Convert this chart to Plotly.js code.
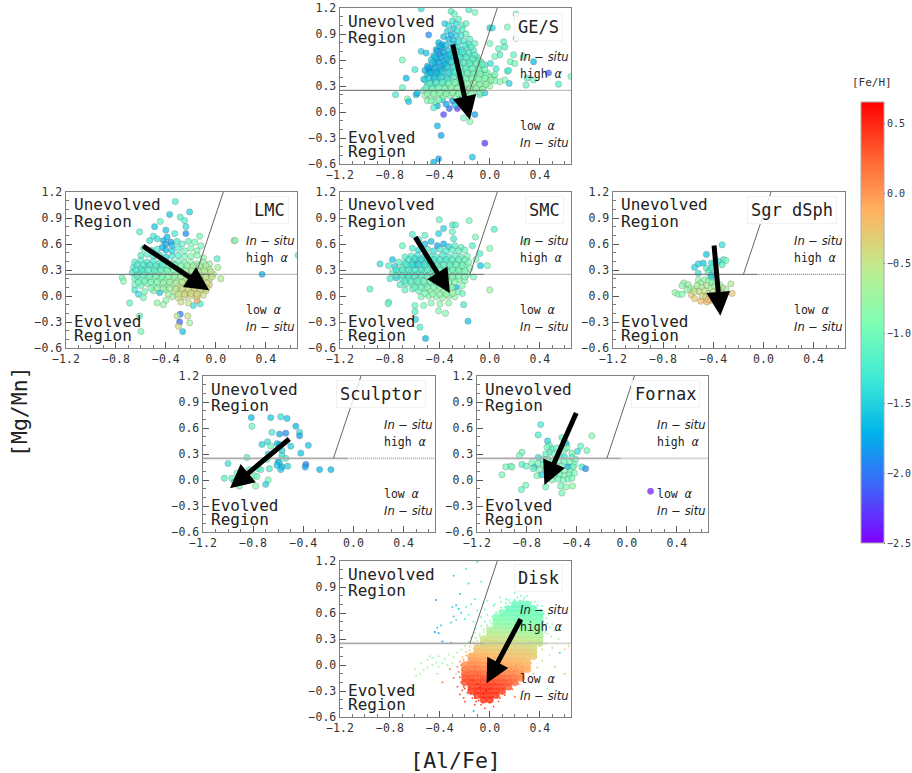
<!DOCTYPE html>
<html><head><meta charset="utf-8">
<script src="https://cdn.plot.ly/plotly-3.0.1.min.js"></script>
<style>html,body{margin:0;padding:0;background:#fff}</style></head>
<body><div id="chart" style="width:912px;height:773px"></div>
<script>
const panelNames=['GE/S','LMC','SMC','Sgr dSph','Sculptor','Fornax','Disk'];
const fehTicks=[-2.5,-2,-1.5,-1,-0.5,0,0.5];
const boundaryX=[-0.16,0.06];
const boundaryY=[0.25,1.2];
const gesStars=[[-.55,1.19,-1.4],[-.31,1.16,-1.2],[-.285,1.13,-1.1],[-.17,1.18,-1.2],[-.12,1.15,-1],[.21,1.13,-1],[-.49,.89,-1.9],[0,.97,-1.5],[.02,.97,-1.4],[.14,.98,-1],[.21,.85,-1],[-.55,.7,-1.5],[-.51,.68,-1.6],[-.7,.6,-1],[-.6,.49,-1.3],[-.67,.39,-1.7],[-.755,.2,-1.3],[-.7,.28,-1.1],[-.66,.15,-.9],[-.65,.12,-1.6],[-.59,.2,-1.7],[-.58,.22,-1.6],[-.49,.48,-2],[-.53,.38,-1.4],[-.42,-.16,-1.7],[-.39,-.27,-1.8],[-.41,-.54,-1.8],[-.45,-.58,-1.7],[-.14,-.52,-1.6],[-.04,-.36,-2.3],[-.37,-.03,-2.2],[-.26,.04,-2.3],[-.325,.04,-2.1],[-.12,-.03,-1.8],[-.21,-.07,-1],[-.16,-.11,-.9],[.35,.58,-1.7],[.47,.45,-2.1],[.55,.32,-1.2],[.65,.41,-1],[.29,.31,-1.1],[.35,.37,-1],[.3,.39,-1.2],[.11,.81,-1.1],[.12,.75,-1.2],[.07,.73,-1.1],[0,.79,-1],[.19,.66,-1.1],[.08,.66,-1.2],[.04,.64,-1],[.165,.58,-1],[.2,.56,-1],[.27,.64,-1.1],[.14,.47,-1.1],[.15,.48,-1.3],[.12,.37,-.9],[.05,.5,-1.3],[.005,.56,-1.4],[.03,.41,-.9],[.08,.35,-.9],[.155,.33,-1.5],[-.08,.2,-1.2],[-.04,.22,-1.5],[-.42,.07,-1.7],[-.35,.09,-1.8],[-.28,.08,-1.6],[-.2,.12,-1.4],[-.45,.05,-1.2],[-.5,.13,-.9],[-.44,.12,-1],[-.38,.14,-1.5],[-.3,.13,-1.8],[-.24,.15,-1.7],[-.15,.14,-1.6],[-.36,1.02,-1.5],[-.33,1,-1.4],[-.3,1.05,-1.3],[-.27,1.02,-1.4],[-.25,1.07,-1.1],[-.22,1,-1.2],[-.29,.96,-1.6],[-.34,.93,-1.5],[-.26,.94,-1.3],[-.22,.95,-1.2],[-.19,1.02,-1.1],[-.31,.89,-1.7],[-.37,.87,-1.6],[-.27,.88,-1.5],[-.23,.88,-1.3],[-.19,.9,-1.1],[-.16,.84,-1.2],[-.33,.84,-1.7],[-.41,.8,-1.7],[-.38,.78,-1.7],[-.29,.82,-1.6],[-.25,.81,-1.4],[-.21,.82,-1.3],[-.17,.78,-1.2],[-.12,.79,-1.1],[-.43,.72,-1.7],[-.38,.74,-1.8],[-.33,.71,-1.6],[-.28,.75,-1.5],[-.23,.72,-1.4],[-.18,.74,-1.3],[-.13,.71,-1.2],[-.45,.65,-1.6],[-.4,.67,-1.8],[-.35,.65,-1.7],[-.3,.68,-1.5],[-.25,.66,-1.3],[-.2,.67,-1.3],[-.15,.65,-1.2],[-.1,.63,-1.2],[-.47,.6,-1.5],[-.42,.61,-1.7],[-.37,.59,-1.7],[-.32,.62,-1.6],[-.27,.6,-1.4],[-.22,.61,-1.3],[-.17,.59,-1.2],[-.12,.6,-1.1],[-.07,.58,-1.1],[-.5,.53,-1.7],[-.44,.55,-1.8],[-.39,.53,-1.7],[-.34,.56,-1.6],[-.29,.54,-1.4],[-.24,.55,-1.3],[-.19,.53,-1.2],[-.14,.54,-1.1],[-.09,.52,-1.1],[-.04,.54,-1.2],[-.52,.48,-1.7],[-.47,.49,-1.8],[-.42,.47,-1.7],[-.37,.5,-1.6],[-.32,.48,-1.5],[-.27,.49,-1.3],[-.22,.47,-1.2],[-.17,.48,-1.1],[-.12,.46,-1.1],[-.07,.47,-1],[-.02,.45,-1],[-.5,.43,-1.6],[-.45,.42,-1.7],[-.4,.44,-1.6],[-.35,.41,-1.5],[-.3,.43,-1.4],[-.25,.42,-1.2],[-.2,.41,-1.1],[-.15,.43,-1.05],[-.1,.41,-1],[-.05,.42,-.95],[0,.4,-.9],[.04,.43,-1],[-.52,.37,-1.5],[-.46,.36,-1.6],[-.41,.38,-1.6],[-.36,.35,-1.4],[-.31,.37,-1.3],[-.26,.36,-1.1],[-.21,.35,-1],[-.16,.37,-.95],[-.11,.35,-.9],[-.06,.36,-.85],[-.01,.34,-.85],[.04,.36,-.9],[-.5,.31,-1.3],[-.45,.3,-1.4],[-.4,.32,-1.3],[-.35,.29,-1.2],[-.3,.31,-1],[-.25,.3,-.95],[-.2,.29,-.9],[-.15,.31,-.85],[-.1,.3,-.85],[-.05,.29,-.8],[0,.3,-.85],[-.53,.25,-1.1],[-.48,.24,-1],[-.43,.26,-.95],[-.38,.23,-.95],[-.33,.25,-.9],[-.28,.24,-.85],[-.23,.23,-.85],[-.18,.25,-.85],[-.13,.24,-.85],[-.08,.23,-.9],[-.52,.19,-.85],[-.47,.18,-.85],[-.42,.2,-.85],[-.37,.18,-.9],[-.32,.19,-.85],[-.27,.18,-.9],[-.22,.2,-.85],[-.17,.19,-.9],[-.47,.13,-.9],[-.41,.14,-.95],
[-.4,.76,-1.7],[-.35,.77,-1.6],[-.3,.78,-1.5],[-.26,.75,-1.35],[-.2,.77,-1.25],[-.15,.75,-1.2],[-.42,.7,-1.8],[-.37,.69,-1.75],[-.32,.66,-1.55],[-.27,.7,-1.4],[-.22,.69,-1.3],[-.17,.68,-1.25],[-.12,.66,-1.2],[-.44,.63,-1.65],[-.39,.63,-1.75],[-.34,.61,-1.6],[-.29,.64,-1.45],[-.24,.63,-1.3],[-.19,.63,-1.2],[-.14,.61,-1.15],[-.09,.59,-1.1],[-.46,.57,-1.6],[-.41,.57,-1.75],[-.36,.55,-1.65],[-.31,.58,-1.45],[-.26,.57,-1.3],[-.21,.57,-1.2],[-.16,.56,-1.15],[-.11,.56,-1.05],[-.06,.55,-1.1],[-.49,.51,-1.8],[-.44,.51,-1.7],[-.39,.49,-1.65],[-.34,.52,-1.5],[-.29,.51,-1.3],[-.24,.51,-1.2],[-.19,.5,-1.1],[-.14,.5,-1.05],[-.09,.49,-1],[-.04,.49,-1],[-.48,.45,-1.7],[-.43,.45,-1.65],[-.38,.46,-1.5],[-.33,.45,-1.4],[-.28,.46,-1.2],[-.23,.44,-1.1],[-.18,.45,-1.05],[-.13,.44,-1],[-.08,.44,-.95],[-.03,.42,-.95],[-.49,.39,-1.5],[-.44,.39,-1.5],[-.39,.4,-1.4],[-.34,.38,-1.3],[-.29,.4,-1.15],[-.24,.39,-1.05],[-.19,.38,-.95],[-.14,.39,-.9],[-.09,.38,-.9],[-.04,.39,-.9],[.01,.37,-.85],[-.48,.33,-1.2],[-.43,.34,-1.2],[-.38,.34,-1.1],[-.33,.33,-1],[-.28,.34,-.95],[-.23,.33,-.9],[-.18,.33,-.85],[-.13,.33,-.85],[-.08,.32,-.85],[-.03,.32,-.85],[-.51,.28,-1.1],[-.46,.27,-1],[-.41,.28,-.95],[-.36,.27,-.9],[-.31,.28,-.85],[-.26,.27,-.85],[-.21,.26,-.85],[-.16,.27,-.85],[-.11,.27,-.85],[-.06,.26,-.85],[-.5,.21,-.85],[-.45,.21,-.85],[-.4,.22,-.85],[-.35,.21,-.85],[-.3,.22,-.85],[-.25,.21,-.85],[-.2,.23,-.85],[-.15,.21,-.9]];
const lmcStars=[[-.325,1.09,-1.3],[-.21,.97,-1.5],[-.285,.91,-1.2],[-.37,.94,-1.6],[-.445,.86,-1.1],[-.49,.8,-1.6],[-.25,.87,-1.2],[-.4,.76,-1.6],[-.61,.74,-1.2],[-.33,.72,-1.3],[-.24,.8,-1.4],[-.24,.72,-1.9],[-.13,.69,-1],[.145,.64,-.4],[.155,.64,-1],[.66,.47,-1.2],[.37,.25,-1.7],[.01,.43,-1.2],[.015,.33,-.7],[.04,.2,-.6],[-.75,.21,-1],[-.74,.17,-.9],[-.69,-.08,-1.1],[-.61,-.23,-1.1],[-.6,-.41,-1],[-.285,-.21,-2],[-.225,-.23,-.5],[-.31,-.23,-.6],[-.29,-.3,-2.1],[-.21,-.31,-.7],[-.3,-.35,-.4],[-.265,-.41,-1.6],[-.18,-.11,-1.4],[-.125,-.09,-1.3],[-.15,-.05,-.1],[-.5,.69,-1.3],[-.47,.66,-1.4],[-.53,.64,-1.4],[-.42,.64,-1.7],[-.39,.68,-1.7],[-.36,.62,-1.8],[-.4,.6,-1.8],[-.43,.56,-1.7],[-.35,.58,-1.6],[-.31,.63,-1.3],[-.27,.6,-1.1],[-.22,.63,-1.1],[-.17,.62,-1],[-.12,.58,-1],[-.58,.55,-1.1],[-.52,.53,-1.3],[-.47,.54,-1.3],[-.4,.53,-1.7],[-.35,.52,-1.5],[-.3,.55,-1.2],[-.25,.52,-1],[-.2,.55,-1],[-.15,.52,-.95],[-.6,.47,-1.2],[-.55,.48,-1.2],[-.5,.46,-1.3],[-.45,.47,-1.4],[-.4,.45,-1.5],[-.35,.46,-1.3],[-.3,.47,-1.2],[-.25,.45,-1],[-.2,.46,-.9],[-.15,.47,-.9],[-.1,.44,-.85],[-.65,.39,-1.2],[-.6,.41,-1.2],[-.55,.39,-1.25],[-.5,.4,-1.3],[-.45,.38,-1.3],[-.4,.4,-1.3],[-.35,.38,-1.15],[-.3,.4,-1.05],[-.25,.38,-.95],[-.2,.39,-.85],[-.15,.37,-.8],[-.1,.39,-.75],[-.05,.37,-.75],[-.66,.33,-1.3],[-.6,.32,-1.3],[-.55,.34,-1.3],[-.5,.32,-1.25],[-.45,.33,-1.2],[-.4,.31,-1.1],[-.35,.33,-1],[-.3,.32,-.95],[-.25,.31,-.85],[-.2,.33,-.75],[-.15,.31,-.7],[-.1,.33,-.65],[-.05,.31,-.6],[-.67,.27,-1.3],[-.62,.26,-1.25],[-.57,.27,-1.2],[-.52,.25,-1.1],[-.47,.27,-1.05],[-.42,.25,-1],[-.37,.27,-.95],[-.32,.25,-.85],[-.27,.26,-.8],[-.22,.25,-.7],[-.17,.26,-.65],[-.12,.24,-.6],[-.07,.26,-.55],[-.02,.25,-.6],[-.65,.2,-1.1],[-.6,.19,-1],[-.55,.21,-1],[-.5,.19,-.95],[-.45,.2,-.95],[-.4,.18,-.85],[-.35,.2,-.8],[-.3,.18,-.7],[-.25,.2,-.65],[-.2,.18,-.55],[-.15,.2,-.5],[-.1,.18,-.5],[-.05,.2,-.5],[-.65,.13,-1],[-.6,.12,-1.1],[-.55,.14,-.95],[-.5,.12,-.9],[-.45,.13,-.85],[-.4,.11,-.8],[-.35,.13,-.7],[-.3,.11,-.55],[-.25,.13,-.5],[-.2,.11,-.45],[-.15,.13,-.45],[-.1,.11,-.45],[-.05,.13,-.4],[-.65,.07,-1.3],[-.62,.02,-1.4],[-.57,.05,-1],[-.5,.06,-.95],[-.45,.04,-1.6],[-.4,.07,-.8],[-.33,.05,-.6],[-.28,.06,-.45],[-.23,.04,-.4],[-.18,.06,-.4],[-.13,.04,-.45],[-.08,.06,-.4],[-.58,-.02,-1],[-.4,-.05,-.85],[-.35,-.01,-.7],[-.3,-.02,-.5],[-.25,-.01,-.4],[-.2,0,-.4],[-.15,-.01,-.4],[-.47,-.08,-.8],[-.42,-.1,-.8],[-.28,-.07,-.45],[-.22,-.08,-.5],
[-.63,.36,-1.25],[-.58,.36,-1.3],[-.53,.36,-1.3],[-.48,.35,-1.25],[-.43,.36,-1.2],[-.38,.35,-1.1],[-.33,.36,-1],[-.28,.35,-.9],[-.23,.35,-.85],[-.18,.35,-.75],[-.13,.35,-.7],[-.08,.35,-.65],[-.64,.3,-1.25],[-.59,.29,-1.25],[-.54,.3,-1.2],[-.49,.29,-1.15],[-.44,.3,-1.1],[-.39,.29,-1],[-.34,.3,-.95],[-.29,.29,-.85],[-.24,.29,-.75],[-.19,.29,-.7],[-.14,.28,-.6],[-.09,.29,-.6],[-.04,.28,-.55],[-.63,.23,-1.15],[-.58,.24,-1.1],[-.53,.22,-1.05],[-.48,.23,-1],[-.43,.22,-.95],[-.38,.22,-.85],[-.33,.22,-.8],[-.28,.22,-.7],[-.23,.23,-.6],[-.18,.22,-.55],[-.13,.22,-.5],[-.08,.22,-.5],[-.03,.22,-.5],[-.62,.16,-1.05],[-.57,.17,-1],[-.52,.16,-.95],[-.47,.16,-.9],[-.42,.15,-.85],[-.37,.16,-.75],[-.32,.15,-.65],[-.27,.16,-.55],[-.22,.15,-.5],[-.17,.16,-.45],[-.12,.15,-.45],[-.07,.15,-.45],[-.52,.09,-.9],[-.47,.09,-.85],[-.42,.09,-.8],[-.37,.09,-.7],[-.32,.08,-.55],[-.27,.09,-.45],[-.22,.08,-.4],[-.17,.09,-.4],[-.12,.08,-.4],[-.07,.09,-.4],[-.38,.02,-.75],[-.3,.02,-.5],[-.25,.02,-.4],[-.2,.03,-.4],[-.15,.02,-.4],[-.1,.01,-.45]];
const smcStars=[[-.405,.88,-1.1],[-.165,.87,-1],[-.3,.82,-1.2],[-.275,.82,-1.2],[-.37,.78,-1.5],[-.41,.72,-1.5],[-.62,.71,-1.2],[-.52,.7,-1.1],[-.3,.74,-1.1],[.035,.77,-1.2],[-.115,.68,-1],[-.29,.66,-1.3],[-.14,.58,-1.2],[0,.55,-.9],[.29,.62,-.9],[-.08,.49,-1.2],[-.11,.42,-1],[-.075,.35,-1.6],[-.02,.35,-1],[-.88,.37,-1.4],[-.96,.08,-1.2],[0,.07,-.8],[-.21,-.1,-1.3],[-.175,-.29,-1.6],[-.515,-.49,-1.7],[-.56,-.36,-1.2],[-.595,-.27,-1.5],[-.6,-.18,-1.2],[-.81,-.07,-1.1],[-.815,-.09,-1.1],[-.355,-.2,-.9],[-.41,-.17,-.9],[-.53,-.11,-1],[-.6,-.11,-1.1],[-.57,.65,-1.4],[-.52,.6,-1.6],[-.47,.63,-1.6],[-.42,.58,-1.8],[-.37,.6,-1.7],[-.33,.57,-1.5],[-.28,.58,-1.2],[-.23,.56,-1.1],[-.7,.58,-1.1],[-.62,.55,-1.3],[-.57,.53,-1.4],[-.5,.54,-1.3],[-.45,.52,-1.4],[-.4,.54,-1.3],[-.35,.52,-1.3],[-.3,.53,-1.2],[-.25,.52,-1.15],[-.2,.53,-1.05],[-.68,.45,-1.2],[-.63,.46,-1.25],[-.58,.47,-1.35],[-.53,.45,-1.4],[-.48,.46,-1.3],[-.43,.45,-1.25],[-.38,.47,-1.3],[-.33,.45,-1.25],[-.28,.46,-1.15],[-.23,.45,-1.1],[-.18,.46,-1],[-.78,.42,-1.6],[-.73,.39,-1.2],[-.68,.38,-1.3],[-.62,.39,-1.35],[-.57,.4,-1.5],[-.52,.38,-1.4],[-.47,.39,-1.3],[-.42,.38,-1.25],[-.37,.4,-1.2],[-.32,.38,-1.15],[-.27,.39,-1.1],[-.22,.38,-1.05],[-.17,.39,-1],[-.81,.35,-1.2],[-.76,.34,-1.5],[-.7,.33,-1.2],[-.65,.34,-1.3],[-.6,.35,-1.7],[-.55,.33,-1.3],[-.5,.34,-1.25],[-.45,.32,-1.2],[-.4,.33,-1.15],[-.35,.32,-1.1],[-.3,.33,-1.05],[-.25,.32,-1],[-.2,.33,-1],[-.16,.32,-.95],[-.78,.27,-1.1],[-.73,.28,-1.2],[-.68,.26,-1.25],[-.63,.27,-1.3],[-.58,.26,-1.25],[-.53,.28,-1.2],[-.48,.26,-1.15],[-.43,.27,-1.1],[-.38,.26,-1.05],[-.33,.27,-1],[-.28,.26,-1],[-.23,.27,-.95],[-.18,.25,-.95],[-.13,.22,-1],[-.8,.2,-1.3],[-.75,.21,-1.5],[-.7,.2,-1.2],[-.65,.21,-1.2],[-.6,.19,-1.15],[-.55,.2,-1.1],[-.5,.21,-1.1],[-.45,.19,-1.05],[-.4,.2,-1],[-.35,.19,-1],[-.3,.2,-.95],[-.25,.19,-.9],[-.2,.18,-.9],[-.72,.13,-1.2],[-.67,.14,-1.15],[-.62,.13,-1.1],[-.57,.14,-1.1],[-.52,.13,-1.05],[-.47,.14,-1],[-.42,.12,-.95],[-.37,.14,-.9],[-.32,.13,-.9],[-.27,.1,-1.7],[-.22,.12,-.95],[-.68,.07,-1.1],[-.62,.08,-1.1],[-.57,.06,-1.05],[-.52,.08,-.95],[-.47,.06,-.9],[-.42,.07,-.85],[-.37,.05,-.85],[-.32,.07,-.85],[-.25,.05,-1],[-.22,.03,-1.05],[-.55,-.01,-1],[-.49,0,-.9],[-.43,-.01,-.85],[-.38,-.02,-.8],[-.33,0,-.8],[-.28,-.01,-.85],[-.47,-.08,-.9],[-.4,-.09,-.85],[-.33,-.08,-.85],
[-.65,.42,-1.3],[-.6,.43,-1.4],[-.55,.42,-1.4],[-.5,.42,-1.35],[-.45,.42,-1.3],[-.4,.42,-1.25],[-.35,.42,-1.25],[-.3,.42,-1.15],[-.25,.42,-1.1],[-.2,.42,-1.05],[-.67,.36,-1.25],[-.62,.36,-1.35],[-.57,.36,-1.4],[-.52,.36,-1.3],[-.47,.36,-1.25],[-.42,.35,-1.2],[-.37,.36,-1.15],[-.32,.35,-1.1],[-.27,.36,-1.05],[-.22,.35,-1],[-.75,.3,-1.3],[-.7,.3,-1.2],[-.65,.3,-1.25],[-.6,.3,-1.3],[-.55,.3,-1.25],[-.5,.3,-1.2],[-.45,.3,-1.15],[-.4,.3,-1.1],[-.35,.29,-1.05],[-.3,.3,-1],[-.25,.29,-1],[-.2,.29,-.95],[-.75,.24,-1.2],[-.7,.24,-1.2],[-.65,.24,-1.25],[-.6,.23,-1.2],[-.55,.24,-1.15],[-.5,.23,-1.1],[-.45,.23,-1.05],[-.4,.23,-1],[-.35,.23,-1],[-.3,.23,-.95],[-.25,.23,-.95],[-.2,.22,-.95],[-.68,.17,-1.2],[-.63,.17,-1.15],[-.58,.17,-1.1],[-.53,.17,-1.05],[-.48,.17,-1],[-.43,.16,-.95],[-.38,.17,-.95],[-.33,.16,-.9],[-.28,.16,-.9],[-.6,.1,-1.1],[-.55,.1,-1.05],[-.5,.1,-1],[-.45,.1,-.95],[-.4,.1,-.9],[-.35,.1,-.85],[-.3,.1,-.85],[-.52,.03,-.95],[-.46,.02,-.9],[-.4,.02,-.85],[-.35,.02,-.8],[-.3,.03,-.8]];
const sgrStars=[[-.33,.59,-1.4],[-.455,.48,-1.6],[-.32,.42,-1.2],[-.3,.41,-1],[-.36,.4,-1.4],[-.39,.38,-1.5],[-.48,.38,-1.6],[-.52,.37,-1.5],[-.55,.33,-1.5],[-.415,.38,-1.4],[-.33,.36,-1.2],[-.455,.32,-1.2],[-.43,.3,-1.1],[-.41,.32,-1.3],[-.52,.26,-1.4],[-.44,.27,-1.1],[-.415,.24,-1.5],[-.38,.25,-1.3],[-.42,.21,-1.5],[-.705,.04,-.8],[-.68,.02,-.9],[-.65,.02,-.9],[-.635,.15,-.8],[-.65,.12,-.85],[-.6,.13,-.8],[-.59,.09,-.75],[-.575,.015,-.3],[-.61,.07,-.8],[-.55,-.03,-.3],[-.5,-.06,-.2],[-.45,-.07,-.2],[-.42,-.05,-.25],[-.39,-.05,-.2],[-.25,.03,-.3],[-.26,.14,-.6],[-.3,.08,-.7],[-.33,.1,-.6],[-.55,.08,-.6],[-.52,.18,-.8],[-.5,.15,-.75],[-.47,.19,-.8],[-.44,.17,-.85],[-.41,.16,-.9],[-.38,.15,-.8],[-.35,.13,-.7],[-.53,.12,-.7],[-.49,.1,-.6],[-.45,.12,-.65],[-.42,.09,-.7],[-.39,.11,-.7],[-.36,.08,-.65],[-.55,.05,-.5],[-.51,.05,-.45],[-.47,.06,-.5],[-.44,.03,-.55],[-.4,.05,-.55],[-.37,.03,-.5],[-.34,.04,-.45],[-.49,0,-.4],[-.46,-.01,-.35],[-.43,.01,-.35],[-.4,-.01,-.35],[-.37,-.02,-.3],[-.34,-.01,-.45],[-.44,-.04,-.2]];
const sculptorStars=[[-.815,.72,-1.7],[-.81,.62,-1.1],[-.66,.72,-1.6],[-.58,.73,-1.4],[-.53,.71,-1.6],[-.46,.62,-1.7],[-.43,.55,-1.4],[-.43,.51,-1.8],[-.65,.55,-1.3],[-.59,.53,-1.8],[-.54,.54,-1.9],[-.36,.4,-1.6],[-.42,.31,-1.6],[-.5,.39,-1.5],[-.685,.44,-1.4],[-.73,.41,-1.5],[-.66,.39,-1.1],[-.61,.42,-1.6],[-.59,.41,-1.7],[-.57,.34,-1.5],[-.57,.28,-1.4],[-.54,.25,-1.3],[-.68,.3,-1.5],[-.85,.26,-1.2],[-.69,.24,-1.3],[-.6,.21,-1.7],[-.59,.2,-1.5],[-.61,.17,-1.6],[-.57,.15,-1.7],[-.58,.12,-1.6],[-.525,.16,-1.5],[-1,.19,-1.4],[-.38,.18,-2],[-.385,.15,-1.8],[-.27,.12,-1.7],[-.18,.12,-1.7],[-.83,.12,-1.2],[-.76,.13,-1],[-.74,.12,-1.2],[-.67,.13,-1.3],[-1.03,.02,-1.2],[-.97,.02,-1.1],[-.93,.08,-1.1],[-.88,.07,-1.2],[-.95,-.02,-1.4],[-.91,-.07,-1],[-.87,-.02,-1],[-.78,-.07,-.9],[-.79,.05,-1],[-.77,.04,-1],[-.68,0,-1],[-.7,-.05,-1.5]];
const fornaxStars=[[-.69,.64,-1.3],[-.71,.52,-1.3],[-.28,.51,-.9],[-.485,.42,-1.7],[-.635,.45,-1.5],[-.37,.39,-1.1],[-.395,.33,-1.4],[-.32,.34,-1],[-.84,.32,-1],[-.86,.28,-1],[-.71,.26,-1.4],[-.84,.18,-1.2],[-.805,.16,-1.1],[-.97,.15,-1],[-.93,.16,-1],[-.92,.15,-1],[-1,.06,-1],[-.845,-.11,-1.1],[-.81,-.06,-1],[-.65,-.08,-1],[-.52,-.15,-1],[-.485,-.08,-.9],[-.435,-.07,-.8],[-.53,-.07,-1],[-.36,.15,-1.3],[-.33,.13,-1.9],[.19,-.13,-2.4],[-.74,.15,-1.6],[-.52,.49,-1.2],[-.5,.45,-1.1],[-.62,.4,-1.1],[-.6,.36,-1.2],[-.64,.38,-1],[-.56,.37,-1],[-.5,.35,-1],[-.48,.37,-1],[-.44,.31,-1],[-.62,.32,-1.2],[-.65,.3,-1.1],[-.58,.3,-1],[-.54,.28,-1.05],[-.5,.27,-1.4],[-.44,.26,-1.1],[-.41,.24,-1],[-.67,.24,-1.1],[-.63,.24,-1.1],[-.59,.22,-1],[-.55,.22,-1],[-.5,.21,-1.05],[-.46,.2,-1],[-.42,.18,-1],[-.76,.2,-1],[-.71,.19,-1],[-.67,.18,-1.05],[-.62,.17,-1.1],[-.57,.16,-1],[-.52,.16,-1.05],[-.47,.15,-1.7],[-.43,.15,-1.05],[-.75,.13,-1.05],[-.7,.12,-1],[-.65,.12,-1.2],[-.6,.11,-1.1],[-.55,.1,-1],[-.5,.11,-1],[-.45,.1,-1],[-.72,.05,-1],[-.68,.06,-1.5],[-.63,.05,-1.1],[-.58,.05,-1],[-.54,.06,-1],[-.5,.05,-1],[-.46,.06,-1],[-.42,.08,-.95],[-.6,0,-1],[-.55,.01,-1],[-.51,0,-1],[-.47,.01,-.95],[-.44,.02,-1]];
const diskAlBins=[-.4,-.35,-.3,-.25,-.2,-.15,-.1,-.05,0,.05,.1,.15,.2,.25,.3,.35,.4,.45,.5];
const diskMgBins=[-.45,-.4,-.35,-.3,-.25,-.2,-.15,-.1,-.05,0,.05,.1,.15,.2,.25,.3,.35,.4,.45,.5,.55,.6,.65,.7,.75,.8];
const _=null;
const diskFeH=[
[_,_,_,_,_,_,_,_,_,_,_,_,_,_,_,_,_,_,_],
[_,_,_,_,_,_,_,.45,.45,_,_,_,_,_,_,_,_,_,_],
[_,_,_,_,_,_,.44,.46,.46,.42,_,_,_,_,_,_,_,_,_],
[_,_,_,_,_,.42,.44,.45,.46,.44,.38,_,_,_,_,_,_,_,_],
[_,_,_,_,_,.38,.42,.44,.45,.42,.38,.32,_,_,_,_,_,_,_],
[_,_,_,_,.36,.38,.38,.4,.4,.38,.35,.3,.25,_,_,_,_,_,_],
[_,_,_,_,.32,.34,.32,.32,.32,.3,.28,.24,.18,.14,_,_,_,_,_],
[_,_,_,_,.28,.28,.26,.24,.22,.2,.18,.14,.1,.06,_,_,_,_,_],
[_,_,_,_,.18,.2,.18,.14,.12,.1,.08,.05,.02,-.02,-.08,_,_,_,_],
[_,_,_,_,.06,.1,.1,.05,.03,0,-.02,-.05,-.08,-.1,-.14,_,_,_,_],
[_,_,_,_,_,.02,.02,-.02,-.05,-.08,-.1,-.12,-.14,-.17,-.2,_,_,_,_],
[_,_,_,_,_,-.06,-.08,-.1,-.12,-.14,-.16,-.18,-.2,-.22,-.25,-.28,_,_,_],
[_,_,_,_,_,_,-.18,-.18,-.2,-.22,-.24,-.25,-.27,-.28,-.3,-.33,_,_,_],
[_,_,_,_,_,_,-.26,-.27,-.28,-.3,-.3,-.32,-.33,-.35,-.37,-.4,_,_,_],
[_,_,_,_,_,_,_,-.35,-.36,-.37,-.38,-.4,-.41,-.42,-.44,-.47,-.5,_,_],
[_,_,_,_,_,_,_,-.44,-.43,-.44,-.46,-.47,-.48,-.5,-.52,-.55,-.58,_,_],
[_,_,_,_,_,_,_,_,-.52,-.53,-.54,-.55,-.57,-.6,-.62,-.65,-.68,_,_],
[_,_,_,_,_,_,_,_,-.62,-.63,-.65,-.67,-.68,-.7,-.72,-.75,-.78,_,_],
[_,_,_,_,_,_,_,_,_,-.73,-.75,-.77,-.78,-.8,-.82,-.84,-.85,_,_],
[_,_,_,_,_,_,_,_,_,-.82,-.85,-.87,-.88,-.9,-.9,-.9,-.92,_,_],
[_,_,_,_,_,_,_,_,_,-.9,-.93,-.95,-.95,-.97,-.97,-.97,-.97,_,_],
[_,_,_,_,_,_,_,_,_,_,-.98,-1,-1,-1.02,-1.02,-1,-1,_,_],
[_,_,_,_,_,_,_,_,_,_,_,-1.05,-1.05,-1.05,-1.05,-1.02,_,_,_],
[_,_,_,_,_,_,_,_,_,_,_,_,-1.05,-1.05,-1.05,_,_,_,_],
[_,_,_,_,_,_,_,_,_,_,_,_,_,_,_,_,_,_,_],
[_,_,_,_,_,_,_,_,_,_,_,_,_,_,_,_,_,_,_]];
const diskFringe=[[-.29,1.03,-1.5],[-.19,1.11,-1.3],[-.1,1.19,-1.4],[-.17,.94,-1.4],[-.07,.96,-1.1],[-.24,.82,-1.6],[-.43,.75,-1.8],[-.27,.69,-1.6],[-.3,.67,-1.5],[-.25,.65,-1.6],[-.23,.6,-1.5],[-.29,.56,-1.6],[-.27,.52,-1.4],[-.31,.49,-1.5],[-.39,.46,-1.5],[-.42,.43,-1.6],[-.44,.38,-1.9],[-.41,.37,-1.7],[-.38,.27,-1.8],[-.31,.26,-1.5],[-.19,.67,-1.2],[-.15,.7,-1.2],[-.12,.76,-1.2],[-.05,.72,-1.1],[-.1,.63,-1.1],[-.17,.58,-1.2],[-.2,.53,-1.3],[-.13,.5,-1.2],[-.07,.55,-1.1],[-.04,.64,-1.1],[-.02,.74,-1],[.03,.68,-1],[.08,.78,-1],[.15,.75,-1],[.2,.83,-1],[.3,.8,-1],[.36,.73,-1],[.42,.68,-1],[.47,.58,-.9],[.5,.47,-.85],[.52,.4,-.7],[.49,.33,-.6],[.45,.25,-.4],[.5,.2,-.4],[.6,.18,-.3],[.63,.22,-.4],[.55,.3,-.5],[.56,.14,-1.5],[.48,.11,-.5],[.42,.05,-.4],[.38,-.03,-.2],[.35,-.1,-.1],[.33,-.2,0],[.27,-.3,.1],[.2,-.37,.2],[.12,-.35,.3],[.07,-.42,.3],[.46,-.27,-1],[.6,-.1,-.2],[.52,-.02,-.3],[.03,-.48,.3],[-.04,-.5,.3],[-.07,-.46,.35],[-.12,-.46,.35],[-.2,-.42,.3],[-.21,-.38,.3],[-.24,-.34,.3],[-.26,-.25,.25],[-.22,-.29,.3],[-.18,-.32,.3],[-.14,-.38,.3],[-.11,-.42,.35],[-.13,-.53,-1.7],[-.7,-.3,.2],[-.29,-.15,.2],[-.32,-.05,.1],[-.27,-.1,-.4],[-.3,.02,-.6],[-.34,0,-.7],[-.38,.02,-.75],[-.41,-.02,-.8],[-.43,.03,-.8],[-.46,0,-.75],[-.5,-.03,-.7],[-.53,-.06,-.7],[-.56,-.1,-.7],[-.59,-.12,-.6],[-.6,-.05,-.6],[-.55,.02,-.75],[-.5,.06,-.85],[-.46,.08,-.85],[-.41,.1,-.85],[-.36,.07,-.8],[-.33,.12,-.7],[-.29,.09,-.6],[-.26,.14,-.6],[-.23,.18,-.55],[-.2,.22,-.6],[-.17,.27,-.7],[-.15,.32,-.75],[-.12,.37,-.8],[-.11,.42,-.9],[-.07,.45,-.95],[-.04,.5,-1],[-.02,.58,-1],[.04,.7,-1.05],[.09,.73,-1.05],[.13,.76,-1.05],[.25,.8,-1.05],[.39,.6,-.95],[.48,.44,-.8],[.46,.36,-.65],[.42,.18,-.35],[.37,.1,-.25],[.33,.02,-.15],[.3,-.05,-.1],[.27,-.12,-.02],[.23,-.22,.12],[.18,-.28,.22],[.1,-.3,.28],[.08,-.38,.3],[-.38,-.2,.15],[-.42,-.1,-.2],[-.48,.1,-.8],
[-.09,-.41,.45],[-.06,-.43,.45],[-.03,-.41,.45],[0,-.43,.45],[.02,-.4,.42],[-.12,-.38,.45],[-.08,-.37,.45],[.03,-.37,.42],[.06,-.36,.4],[-.15,-.33,.42],[-.12,-.31,.42],[-.17,-.29,.4],[-.13,-.34,.45],[.05,-.32,.42],[.08,-.29,.38],[.1,-.33,.38],[-.21,-.25,.38],[-.18,-.22,.4],[-.2,-.27,.38],[-.16,-.25,.4],[.09,-.24,.35],[.12,-.26,.3],[.14,-.22,.3],[-.23,-.2,.35],[-.2,-.18,.36],[-.17,-.2,.38],[.13,-.19,.28],[.16,-.18,.25],[.18,-.21,.22],[-.24,-.14,.3],[-.21,-.12,.3],[-.18,-.15,.32],[.16,-.13,.2],[.19,-.11,.15],[.22,-.14,.12],[-.25,-.08,.18],[-.22,-.06,.2],[-.19,-.09,.25],[.19,-.07,.08],[.22,-.05,.05],[.25,-.08,.02],[-.26,-.02,.1],[-.23,0,.08],[-.2,-.03,.15],[.21,-.01,0],[.24,.01,-.05],[.27,-.02,-.08],[-.24,.04,.02],[-.21,.06,0],[-.18,.03,.05],[.24,.05,-.1],[.27,.07,-.12],[.3,.04,-.15],[-.22,.09,-.1],[-.19,.11,-.12],[-.16,.08,-.05],[.27,.1,-.18],[.3,.12,-.2],[.33,.09,-.22],[-.19,.15,-.25],[-.16,.17,-.25],[-.13,.14,-.2],[.29,.16,-.25],[.32,.14,-.28],[.35,.17,-.3],[-.16,.21,-.35],[-.13,.19,-.33],[-.1,.22,-.3],[.31,.2,-.33],[.34,.22,-.35],[.37,.19,-.38],[-.13,.26,-.45],[-.1,.28,-.42],[-.07,.24,-.4],[.34,.26,-.42],[.37,.28,-.45],[.4,.25,-.48],[-.11,.31,-.55],[-.08,.33,-.52],[-.05,.3,-.48],[.36,.32,-.52],[.39,.3,-.55],[.42,.33,-.58],[-.08,.36,-.65],[-.05,.38,-.62],[-.02,.35,-.58],[.38,.37,-.62],[.41,.36,-.66],[.44,.38,-.7],[-.05,.41,-.72],[-.02,.43,-.7],[.01,.4,-.68],[.39,.42,-.75],[.42,.41,-.78],[.45,.43,-.8],[-.02,.46,-.8],[.01,.48,-.8],[.04,.45,-.75],[.4,.47,-.85],[.43,.46,-.87],[.46,.48,-.88],[0,.51,-.88],[.03,.53,-.88],[.06,.5,-.85],[.4,.52,-.93],[.43,.51,-.95],[.45,.54,-.95],[.02,.56,-.95],[.05,.58,-.95],[.08,.55,-.92],[.38,.57,-.98],[.41,.56,-1],[.43,.59,-1],[.05,.61,-1],[.08,.63,-1],[.11,.6,-.98],[.36,.62,-1.02],[.39,.61,-1.03],[.41,.64,-1],[.09,.66,-1.05],[.12,.67,-1.05],[.15,.65,-1.05],[.33,.67,-1.05],[.36,.66,-1.05],[.38,.69,-1.03],[.13,.71,-1.05],[.16,.72,-1.05],[.19,.7,-1.05],[.3,.71,-1.05],[.33,.72,-1.05],[.2,.75,-1.05],[.24,.74,-1.05],[.27,.75,-1.05],[.22,.78,-1.05],[.28,.78,-1.05],
[-.03,-.3,.55],[-.05,-.34,.55],[-.08,-.26,.55],[0,-.27,.5],[-.1,-.22,.5],[-.02,-.2,.45],[.04,-.22,.4],[-.14,-.18,.45],[-.06,-.15,.35],[.07,-.13,.25],[-.1,-.1,.3],[.02,-.08,.15],[.12,-.05,0],[-.12,-.02,.2],[.15,.07,-.15],[.2,.2,-.3],[.1,.25,-.25],[.22,.32,-.5],[.15,.38,-.5],[.28,.42,-.7],[.2,.5,-.85],[.26,.58,-1.1],[.2,.62,-1.1],[.3,.52,-.95]];
const rainbowScale=[[0,'#8000ff'],[.125,'#4062fa'],[.25,'#00b4eb'],[.375,'#40ebd4'],[.5,'#80ffb4'],[.625,'#bfeb8e'],[.75,'#ffb462'],[.875,'#ff6232'],[1,'#ff0000']];

const W=912,H=773;
const frames=[[340,571,8,164],[66,297,192,348],[340,571,192,348],[613,845,192,348],[203,435,376,532],[477,708,376,532],[340,571,561,717]];
const namePos=[[.39,.98],[.43,.99],[.435,.99],[.23,.99],[.22,.99],[.31,.99],[.39,1.0]];
const arrows=[[-.3,.796,-.16,-.09],[-.595,.588,-.053,.066],[-.605,.696,-.32,.034],[-.395,.6,-.344,-.227],[-.5,.488,-.985,-.096],[-.4,.79,-.66,-.058],[.254,.546,-.026,-.211]];
const layout={width:W,height:H,margin:{l:0,r:0,t:0,b:0,autoexpand:false},paper_bgcolor:'#fff',plot_bgcolor:'rgba(0,0,0,0)',showlegend:false,annotations:[],
  font:{family:'"DejaVu Sans Mono", monospace',color:'#222'}};
const starSets=[gesStars,lmcStars,smcStars,sgrStars,sculptorStars,fornaxStars,diskFringe];
const traces=[];
const mono='"DejaVu Sans Mono", monospace';
frames.forEach((f,i)=>{
  const s=i?String(i+1):'';
  const axis=(dom,rng,t0,dt,anch)=>({domain:dom,range:rng,anchor:anch+s,tickmode:'linear',tick0:t0,dtick:dt,tickformat:'.1f',ticks:'inside',ticklen:6,tickwidth:1,tickcolor:'#555',
    minor:{ticks:'inside',ticklen:3,dtick:.1,tick0:t0,tickcolor:'#777',showgrid:false},showgrid:false,zeroline:false,showline:true,mirror:true,linecolor:'#808080',linewidth:1.4,
    tickfont:{family:mono,size:11.5,color:'#333'}});
  const axx=axis([f[0]/W,f[1]/W],[-1.2,0.65],-1.2,.4,'y');
  const axy=axis([1-f[3]/H,1-f[2]/H],[-0.6,1.2],-.6,.3,'x');
  if(i===6) axx.title={text:'[Al/Fe]',font:{family:mono,size:21.5,color:'#222'},standoff:18};
  layout['xaxis'+s]=axx; layout['yaxis'+s]=axy;
  const xr='x'+s,yr='y'+s;
  const light=i>=4;
  if(i===6){
    const gx=[],gy=[],gc=[];
    diskFeH.forEach((row,r)=>row.forEach((v,c)=>{if(v!==null){gx.push(diskAlBins[c]);gy.push(diskMgBins[r]);gc.push(v);}}));
    traces.push({type:'scatter',mode:'markers',x:gx,y:gy,xaxis:xr,yaxis:yr,hoverinfo:'skip',marker:{size:7.5,color:gc,colorscale:rainbowScale,cmin:-2.5,cmax:.65,opacity:.8,line:{width:0}}});
  }
  const st=starSets[i];
  const m={size:i===6?2:6.3,color:st.map(p=>p[2]),colorscale:rainbowScale,cmin:-2.5,cmax:.65,opacity:i===6?.9:.72,line:{width:i===6?0:.5,color:'rgba(70,70,70,.65)'}};
  if(i===0){m.showscale=true;m.colorbar={x:860.5/W,xanchor:'left',xpad:0,ypad:0,y:1-102/H,yanchor:'top',thickness:23,thicknessmode:'pixels',len:441,lenmode:'pixels',
    tickmode:'array',tickvals:fehTicks,ticktext:['−2.5','−2.0','−1.5','−1.0','−0.5','0.0','0.5'],ticks:'outside',ticklen:1,tickcolor:'#555',outlinecolor:'#aaa',outlinewidth:1,
    tickfont:{family:mono,size:10,color:'#333'}};}
  traces.push({type:'scatter',mode:'markers',x:st.map(p=>p[0]),y:st.map(p=>p[1]),xaxis:xr,yaxis:yr,marker:m,hoverinfo:'skip'});
  const lc=light?'#aaa':'#666',lw=light?1.6:1;
  traces.push({type:'scatter',mode:'lines',x:[-1.2,-.05],y:[.25,.25],xaxis:xr,yaxis:yr,line:{color:lc,width:lw},hoverinfo:'skip'});
  traces.push({type:'scatter',mode:'lines',x:[-.05,.65],y:[.25,.25],xaxis:xr,yaxis:yr,line:{color:lc,width:lw,dash:'1px,1px'},hoverinfo:'skip'});
  traces.push({type:'scatter',mode:'lines',x:boundaryX,y:boundaryY,xaxis:xr,yaxis:yr,line:{color:'#666',width:1},hoverinfo:'skip'});
  const txt=(t,x,y,size,extra)=>layout.annotations.push(Object.assign({text:t,x,y,xref:xr,yref:yr,showarrow:false,xanchor:'left',yanchor:'middle',font:{family:mono,size,color:'#222'}},extra||{}));
  txt('Unevolved',-1.15,1.05,16); txt('Region',-1.15,.855,16);
  txt('Evolved',-1.15,-.29,16); txt('Region',-1.15,-.45,16);
  txt('high <i>α</i>',.225,.44,11.5); txt('low <i>α</i>',.225,-.16,11.5);
  const it={font:{family:'"DejaVu Sans", sans-serif',size:11.5,color:'#222'}};
  txt('<i>In − situ</i>',.225,.635,11.5,it); txt('<i>In − situ</i>',.225,-.358,11.5,it);
  txt(panelNames[i],namePos[i][0],namePos[i][1],17,{xanchor:'center',bgcolor:'rgba(255,255,255,.8)',bordercolor:'#f2f2f2',borderwidth:1,borderpad:3});
  const a=arrows[i];
  layout.annotations.push({text:'',xref:xr,yref:yr,axref:xr,ayref:yr,x:a[2],y:a[3],ax:a[0],ay:a[1],showarrow:true,arrowhead:2,arrowsize:.95,arrowwidth:5,arrowcolor:'#000',standoff:0});
});
layout.annotations.push({text:'[Mg/Mn]',xref:'paper',yref:'paper',x:19/W,y:1-412/H,xanchor:'center',yanchor:'middle',showarrow:false,textangle:-90,font:{family:mono,size:21.5,color:'#222'}});
layout.annotations.push({text:'[Fe/H]',xref:'paper',yref:'paper',x:872/W,y:1-83/H,xanchor:'center',yanchor:'middle',showarrow:false,font:{family:mono,size:11,color:'#333'}});
Plotly.newPlot('chart',traces,layout,{displayModeBar:false,staticPlot:true});
</script></body></html>
